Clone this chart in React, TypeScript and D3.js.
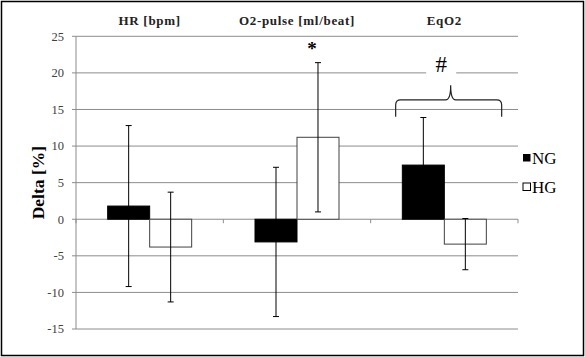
import React from "react";
import * as d3 from "d3";

const categories = ["HR [bpm]", "O2-pulse [ml/beat]", "EqO2"];
const series = ["NG", "HG"];
const ngValues = [1.8, -3.1, 7.4];
const ngErrors = [11.0, 10.2, 6.5];
const hgValues = [-3.8, 11.2, -3.4];
const hgErrors = [7.5, 10.2, 3.5];
const yTicks = [-15, -10, -5, 0, 5, 10, 15, 20, 25];

const W = 585;
const H = 357;
const serif = "'Liberation Serif', 'Times New Roman', serif";

export default function App() {
  const left = 76;
  const right = 518;
  const top = 36.3;
  const bottom = 329;

  const y = d3.scaleLinear().domain([-15, 25]).range([bottom, top]);
  const x0 = d3.scaleBand<string>().domain(categories).range([left, right]).padding(0);
  const x1 = d3
    .scaleBand<string>()
    .domain(series)
    .range([0, x0.bandwidth()])
    .paddingInner(0)
    .paddingOuter(0.754);

  const data = categories.map((c, i) => ({
    cat: c,
    vals: [
      { s: "NG", v: ngValues[i], e: ngErrors[i] },
      { s: "HG", v: hgValues[i], e: hgErrors[i] },
    ],
  }));

  const grid = "#8c8c8c";
  const bw = x1.bandwidth();
  const cap = 3;

  // brace over EqO2
  const bx0 = (x0("EqO2") as number) + 25;
  const bx1 = (x0("EqO2") as number) + 131;
  const bmid = (bx0 + bx1) / 2 + 2;
  const yEnd = y(14);
  const yBar = y(16.3);
  const yPeak = y(18.3);
  const r = 5;
  const brace = d3.path();
  brace.moveTo(bx0, yEnd);
  brace.lineTo(bx0, yBar + r);
  brace.quadraticCurveTo(bx0, yBar, bx0 + r, yBar);
  brace.lineTo(bmid - r, yBar);
  brace.quadraticCurveTo(bmid, yBar, bmid, yPeak);
  brace.quadraticCurveTo(bmid, yBar, bmid + r, yBar);
  brace.lineTo(bx1 - r, yBar);
  brace.quadraticCurveTo(bx1, yBar, bx1, yBar + r);
  brace.lineTo(bx1, yEnd);

  const hashX = (x0("EqO2") as number) + 70.5;
  const starX = (x0("O2-pulse [ml/beat]") as number) + (x1("HG") as number) + bw / 2 - 6;

  return (
    <svg width={W} height={H} style={{ position: "absolute", left: 0, top: 0 }}>
      <rect x={0} y={0} width={W} height={H} fill="#fff" />
      <rect x={1.5} y={1.5} width={W - 3} height={H - 3} fill="none" stroke="#000" strokeWidth={1.5} />

      {/* gridlines */}
      {yTicks.map((t) => (
        <g key={t}>
          <line x1={left} x2={right} y1={y(t)} y2={y(t)} stroke={grid} strokeWidth={1} />
          <line x1={left - 4} x2={left} y1={y(t)} y2={y(t)} stroke={grid} strokeWidth={1} />
          <text
            x={64}
            y={y(t)}
            dy="0.35em"
            textAnchor="end"
            fontFamily={serif}
            fontSize={12.5}
            fill="#404040"
          >
            {t}
          </text>
        </g>
      ))}
      <line x1={left} x2={left} y1={top} y2={bottom} stroke={grid} strokeWidth={1} />
      {/* category ticks on zero line */}
      {[...categories.map((c) => x0(c) as number), right].map((xx, i) => (
        <line key={i} x1={xx} x2={xx} y1={y(0)} y2={y(0) + 4} stroke={grid} strokeWidth={1} />
      ))}

      {/* white gap behind # */}
      <rect x={hashX - 15} y={y(20) - 2} width={30} height={4} fill="#fff" />

      {/* bars */}
      {data.map((d) =>
        d.vals.map((b) => {
          const bx = (x0(d.cat) as number) + (x1(b.s) as number);
          const y0 = y(Math.max(0, b.v));
          const h = Math.abs(y(b.v) - y(0));
          return (
            <rect
              key={d.cat + b.s}
              x={bx}
              y={y0}
              width={bw}
              height={h}
              fill={b.s === "NG" ? "#000" : "#fff"}
              stroke={b.s === "NG" ? "#000" : "#404040"}
              strokeWidth={1}
            />
          );
        })
      )}

      {/* error bars */}
      {data.map((d) =>
        d.vals.map((b) => {
          const cx = (x0(d.cat) as number) + (x1(b.s) as number) + bw / 2;
          const yt = y(b.v + b.e);
          const yb = y(b.v - b.e);
          return (
            <g key={"e" + d.cat + b.s} stroke="#000" strokeWidth={1}>
              <line x1={cx} x2={cx} y1={yt} y2={yb} />
              <line x1={cx - cap} x2={cx + cap} y1={yt} y2={yt} />
              <line x1={cx - cap} x2={cx + cap} y1={yb} y2={yb} />
            </g>
          );
        })
      )}

      {/* category headers */}
      {categories.map((c) => (
        <text
          key={c}
          x={(x0(c) as number) + x0.bandwidth() / 2}
          y={25}
          textAnchor="middle"
          fontFamily={serif}
          fontWeight="bold"
          fontSize={13}
          letterSpacing={0.7}
          fill="#222"
        >
          {c}
        </text>
      ))}

      {/* annotations */}
      <text x={starX} y={55} textAnchor="middle" fontFamily={serif} fontWeight="bold" fontSize={19} fill="#000">
        *
      </text>
      <text x={hashX} y={72} textAnchor="middle" fontFamily={serif} fontSize={23} fill="#000">
        #
      </text>
      <path d={brace.toString()} fill="none" stroke="#222" strokeWidth={1.2} />

      {/* y title */}
      <text
        transform={`translate(38, ${(top + bottom) / 2}) rotate(-90)`}
        textAnchor="middle"
        dy="0.35em"
        fontFamily={serif}
        fontWeight="bold"
        fontSize={17.5}
        fill="#000"
      >
        Delta [%]
      </text>

      {/* legend */}
      {series.map((s, i) => {
        const ly = 158 + i * 29;
        return (
          <g key={s}>
            <rect
              x={523}
              y={ly - 4}
              width={7.5}
              height={7.5}
              fill={s === "NG" ? "#000" : "#fff"}
              stroke="#000"
              strokeWidth={s === "NG" ? 0 : 1}
            />
            <text x={532} y={ly} dy="0.36em" fontFamily={serif} fontSize={17} fill="#000">
              {s}
            </text>
          </g>
        );
      })}
    </svg>
  );
}
